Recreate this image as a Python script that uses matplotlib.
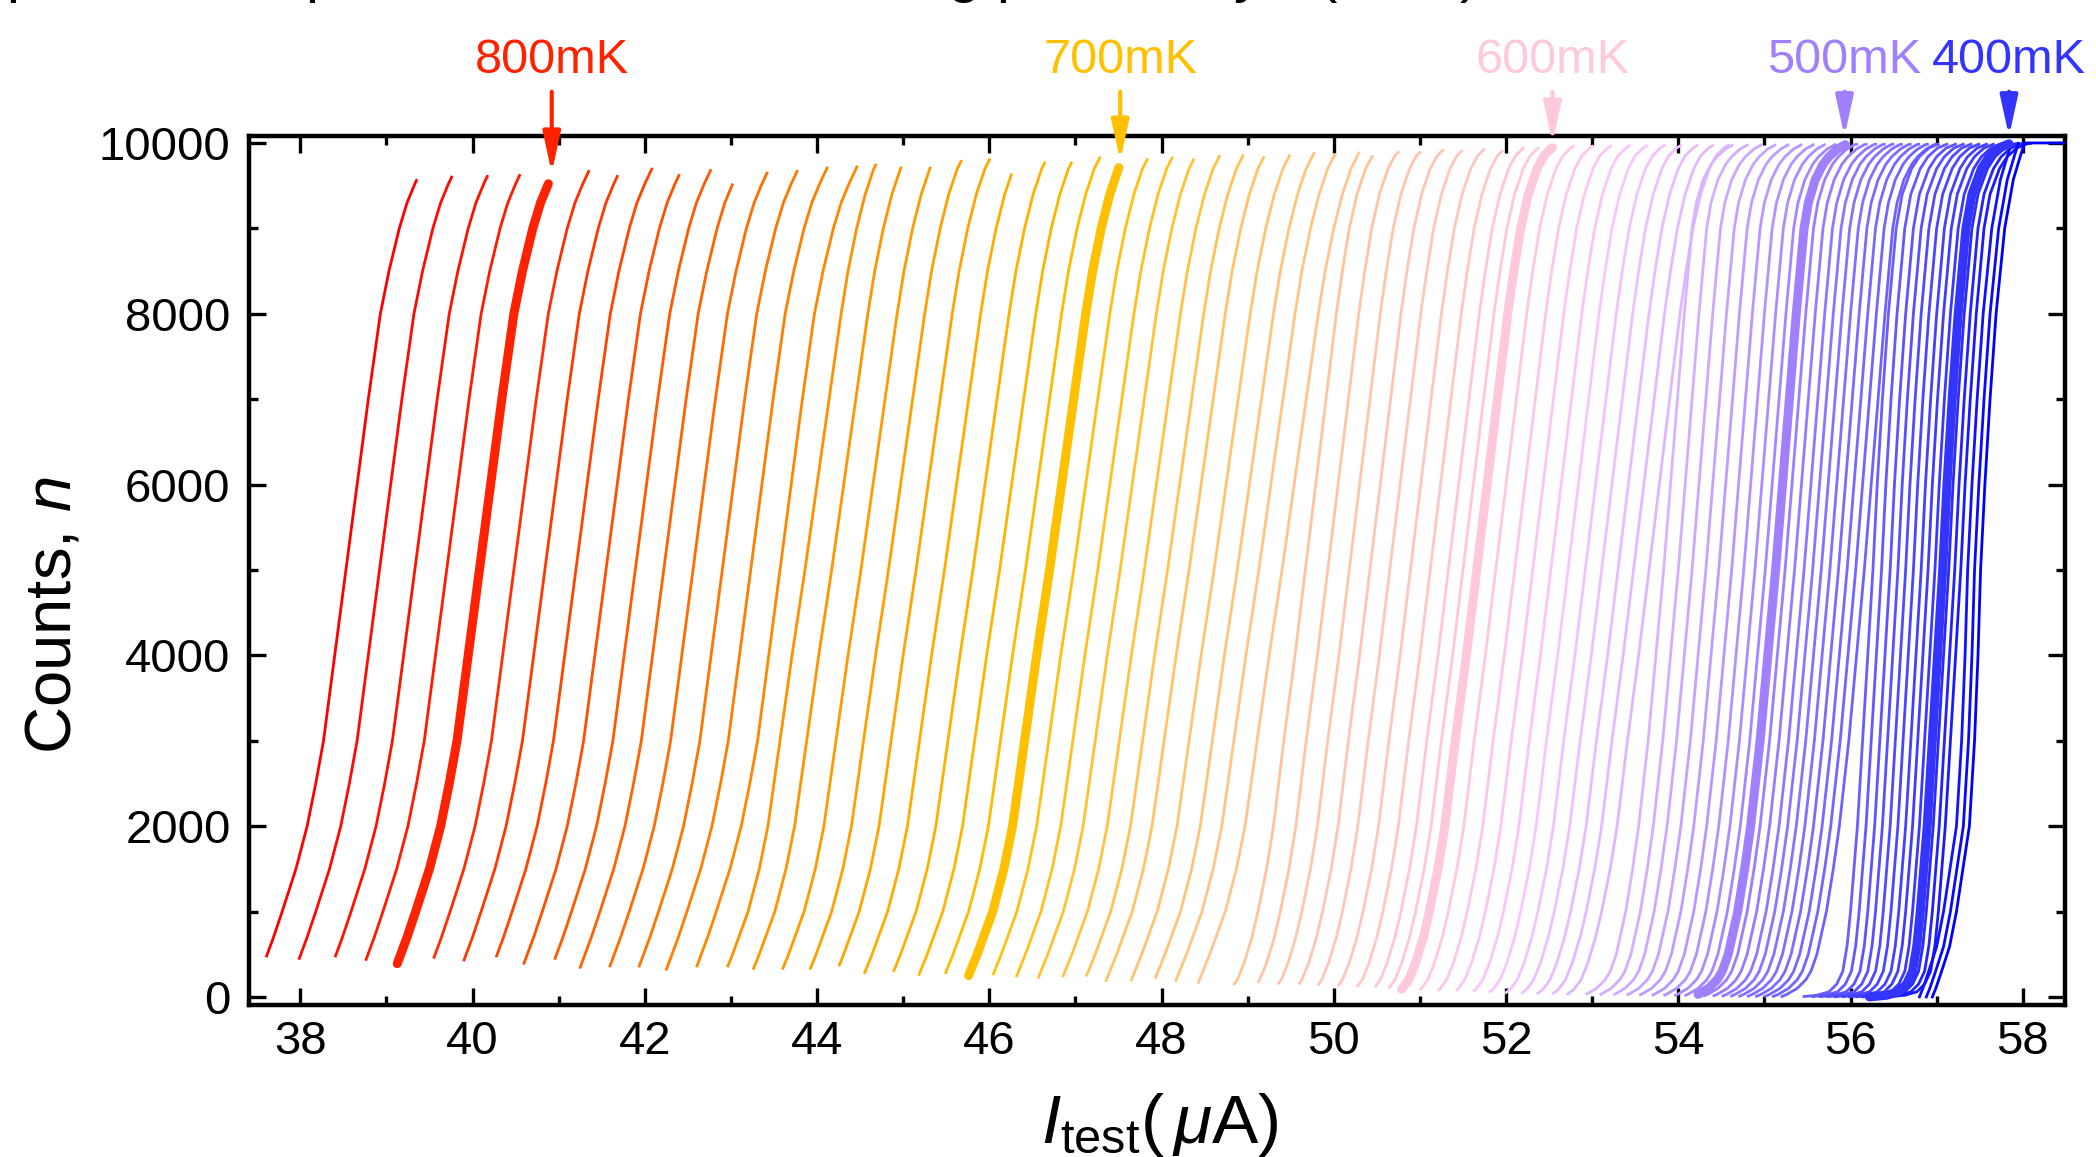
import numpy as np
import matplotlib
matplotlib.use("Agg")
import matplotlib.pyplot as plt
from matplotlib.ticker import MultipleLocator
from matplotlib.colors import to_rgb

plt.rcParams['font.family'] = ['Liberation Sans', 'DejaVu Sans']
plt.rcParams['mathtext.fontset'] = 'custom'
plt.rcParams['mathtext.rm'] = 'Liberation Sans'
plt.rcParams['mathtext.it'] = 'Liberation Sans:italic'
plt.rcParams['mathtext.bf'] = 'Liberation Sans:bold'

# ---------------- data ----------------
# bath temperature of every curve (mK)
T_MK = [820, 815, 810, 805, 800, 795, 790, 785, 780, 775, 770, 765, 760, 755, 750,
        745, 740, 735, 730, 725, 720, 715, 710, 705, 700,
        695, 690, 685, 680, 675, 670, 665, 660, 655, 650,
        645, 640, 635, 630, 625, 620, 615, 610, 605, 600,
        595, 590, 585, 580, 575, 570, 565, 560, 555, 550,
        545, 540, 535, 530, 525, 520, 515, 510, 505, 500,
        495, 490, 485, 480, 475, 470, 465, 460, 455, 450,
        445, 440, 435, 430, 425, 420, 415, 410, 405, 400,
        395, 390, 385, 380, 375, 370]

# test current (uA) where each curve crosses n = 5000
X_MID = [38.53, 38.92, 39.33, 39.70, 40.08, 40.48, 40.84, 41.20, 41.55, 41.89, 42.22, 42.56, 42.90, 43.23, 43.57,
         43.86, 44.17, 44.51, 44.83, 45.15, 45.48, 45.81, 46.12, 46.42, 46.70,
         46.98, 47.26, 47.52, 47.80, 48.07, 48.32, 48.61, 48.88, 49.13, 49.40,
         49.67, 49.93, 50.18, 50.42, 50.65, 50.89, 51.12, 51.33, 51.50, 51.66,
         51.88, 52.10, 52.31, 52.52, 52.72, 52.92, 53.11, 53.30, 53.48, 53.66,
         53.83, 54.00, 54.16, 54.32, 54.47, 54.62, 54.76, 54.89, 55.01, 55.13,
         55.24, 55.35, 55.46, 55.56, 55.66, 55.76, 55.86, 55.96, 56.06, 56.16,
         56.26, 56.36, 56.46, 56.55, 56.64, 56.73, 56.82, 56.90, 56.98, 57.07,
         57.14, 57.21, 57.28, 57.36, 57.44, 57.51]

# first and last recorded count of each curve
N_START = [480, 452, 480, 440, 390, 464, 433, 480, 394, 452, 347, 363, 363, 324, 363,
           363, 335, 335, 335, 374, 285, 308, 265, 285, 250,
           269, 246, 230, 246, 254, 191, 199, 230, 191, 172,
           152, 179, 160, 160, 148, 140, 129, 129, 113, 90,
           90, 82, 82, 74, 62, 51, 51, 43, 43, 35,
           35, 31, 31, 28, 26, 24, 22, 20, 20, 30,
           15, 15, 12, 12, 10, 10, 8, 8, 6, 6,
           5, 5, 4, 4, 3, 3, 2, 2, 1, 0,
           0, 0, 0, 0, 0, 0]
N_END = [9561, 9600, 9608, 9620, 9522, 9667, 9608, 9694, 9620, 9678, 9510, 9647, 9667, 9706, 9718,
         9741, 9706, 9706, 9784, 9804, 9627, 9765, 9765, 9824, 9710,
         9804, 9824, 9804, 9843, 9851, 9830, 9851, 9875, 9863, 9882,
         9843, 9890, 9890, 9914, 9902, 9922, 9902, 9941, 9941, 9945,
         9961, 9961, 9961, 9965, 9965, 9968, 9968, 9970, 9970, 9972,
         9972, 9975, 9975, 9975, 9977, 9977, 9978, 9978, 9980, 9980,
         9985, 9985, 9985, 9985, 9985, 9985, 9985, 9985, 9985, 9985,
         9985, 9985, 9985, 9985, 9985, 9985, 9985, 9985, 9985, 9990,
         9995, 9995, 9995, 9995, 9995, 10000]

# curve profiles: offset from X_MID (uA) vs counts
REF_T = [800, 700, 600, 500, 400, 370]
REF_800_N = [100, 400, 700, 1000, 1500, 2000, 2500, 3000, 4000, 5000, 6000, 7000, 8000, 8500, 9000, 9300, 9520, 9800]
REF_800_DX = [-1.06, -0.95, -0.84, -0.74, -0.58, -0.45, -0.35, -0.26, -0.13, 0.0, 0.13, 0.26, 0.40, 0.50, 0.62, 0.71, 0.80, 0.93]
REF_700_N = [100, 250, 500, 1000, 1500, 2000, 2500, 3000, 4000, 5000, 6000, 7000, 8000, 8500, 9000, 9400, 9700, 9900]
REF_700_DX = [-1.00, -0.94, -0.84, -0.66, -0.53, -0.43, -0.36, -0.29, -0.15, 0.0, 0.14, 0.28, 0.42, 0.50, 0.60, 0.70, 0.80, 0.90]
REF_600_N = [20, 90, 200, 400, 700, 1000, 1500, 2000, 3000, 4000, 5000, 6000, 7000, 8000, 8500, 9000, 9400, 9700, 9850, 9940, 9990]
REF_600_DX = [-0.96, -0.87, -0.79, -0.71, -0.62, -0.55, -0.45, -0.37, -0.25, -0.12, 0.0, 0.12, 0.24, 0.36, 0.43, 0.51, 0.60, 0.70, 0.78, 0.87, 0.95]
REF_500_N = [0, 30, 100, 200, 300, 500, 1000, 1500, 2000, 3000, 4000, 5000, 6000, 7000, 8000, 9000, 9300, 9570, 9750, 9840, 9930, 9980, 10000]
REF_500_DX = [-0.97, -0.90, -0.78, -0.68, -0.62, -0.55, -0.44, -0.36, -0.29, -0.18, -0.09, 0.0, 0.08, 0.16, 0.24, 0.33, 0.38, 0.46, 0.55, 0.62, 0.72, 0.81, 0.90]
REF_400_N = [0, 20, 60, 150, 300, 600, 1000, 2000, 3000, 4000, 5000, 6000, 7000, 8000, 9000, 9400, 9700, 9840, 9940, 9990, 10000]
REF_400_DX = [-0.85, -0.65, -0.51, -0.42, -0.35, -0.30, -0.26, -0.18, -0.12, -0.06, 0.0, 0.05, 0.11, 0.18, 0.27, 0.34, 0.45, 0.54, 0.65, 0.77, 0.85]
REF_370_N = [0, 100, 277, 589, 1000, 2000, 3000, 4000, 5000, 6000, 7000, 8000, 9000, 9570, 9840, 10000]
REF_370_DX = [-0.56, -0.52, -0.46, -0.36, -0.28, -0.13, -0.07, -0.03, 0.0, 0.05, 0.11, 0.18, 0.28, 0.38, 0.46, 0.51]
PLATEAU_END_X = 58.49   # coldest curve stays at n = 10000 up to the frame

# highlighted temperatures, labels and arrow tips
HIGHLIGHT_T = [800, 700, 600, 500, 400]
HIGHLIGHT_LABEL = ['800mK', '700mK', '600mK', '500mK', '400mK']
ARROW_X = [40.92, 47.52, 52.54, 55.93, 57.84]
ARROW_TIP_N = [9650, 9790, 10000, 10075, 10075]

# ---------------- styles ----------------
COLOR_T = [820, 800, 775, 745, 700, 670, 640, 600, 575, 545, 500, 450, 400, 370]
COLOR_HEX = ['#ff0000', '#ff2200', '#ff5a00', '#ff9000', '#ffc000', '#ffc466', '#ffc4a6',
             '#ffc8dc', '#f8c6ff', '#d8b4ff', '#a080ff', '#6e62ff', '#3434ff', '#0000ff']
HIGHLIGHT_COLOR = ['#ff2200', '#ffc000', '#ffc8dc', '#a080ff', '#3434ff']


def colour(t):
    ts = np.array(COLOR_T[::-1], float)
    rgb = np.array([to_rgb(c) for c in COLOR_HEX[::-1]])
    return tuple(np.interp(t, ts, rgb[:, j]) for j in range(3))


REF_N = [REF_800_N, REF_700_N, REF_600_N, REF_500_N, REF_400_N, REF_370_N]
REF_DX = [REF_800_DX, REF_700_DX, REF_600_DX, REF_500_DX, REF_400_DX, REF_370_DX]


def curve(xmid, n0, n1, rn, rdx):
    rn = np.asarray(rn, float)
    rdx = np.asarray(rdx, float)
    inner = (rn > n0) & (rn < n1)
    ns = np.concatenate([[n0], rn[inner], [n1]])
    dx = np.concatenate([[np.interp(n0, rn, rdx)], rdx[inner], [np.interp(n1, rn, rdx)]])
    return xmid + dx, ns


fig = plt.figure(figsize=(20.96, 11.57), dpi=100)
ax = fig.add_axes([0.1186, 0.1314, 0.8666, 0.7511])

for i, t in enumerate(T_MK):
    k = int(np.argmin(np.abs(np.array(REF_T) - t)))
    xs, ns = curve(X_MID[i], N_START[i], N_END[i], REF_N[k], REF_DX[k])
    if i == len(T_MK) - 1:
        xs = np.append(xs, PLATEAU_END_X)
        ns = np.append(ns, N_END[i])
    if t in HIGHLIGHT_T:
        c = HIGHLIGHT_COLOR[HIGHLIGHT_T.index(t)]
        ax.plot(xs, ns, color=c, lw=6.5, solid_capstyle='round', solid_joinstyle='round', zorder=4)
    else:
        ax.plot(xs, ns, color=colour(t), lw=2.0, solid_joinstyle='round', zorder=3)

for x, tip, lab, c in zip(ARROW_X, ARROW_TIP_N, HIGHLIGHT_LABEL, HIGHLIGHT_COLOR):
    ax.annotate('', xy=(x, tip), xytext=(x, 10600),
                arrowprops=dict(arrowstyle='-|>,head_length=1.1,head_width=0.24', color=c, lw=3,
                                mutation_scale=22, shrinkA=0, shrinkB=0),
                annotation_clip=False, zorder=6)
    ax.text(x, 10965, lab, color=c, fontsize=35, ha='center', va='center', clip_on=False)

ax.set_xlim(37.40, 58.49)
ax.set_ylim(-94, 10082)
ax.xaxis.set_major_locator(MultipleLocator(2))
ax.xaxis.set_minor_locator(MultipleLocator(1))
ax.yaxis.set_major_locator(MultipleLocator(2000))
ax.yaxis.set_minor_locator(MultipleLocator(1000))
ax.tick_params(which='both', direction='in', top=True, right=True, width=2.4, labelsize=34)
ax.tick_params(which='major', length=12)
ax.tick_params(which='minor', length=6.5)
ax.tick_params(axis='x', pad=11)
ax.tick_params(axis='y', pad=13)
for s in ax.spines.values():
    s.set_linewidth(3.2)

fig.text(0.0255, 0.4685, r'Counts, $n$', rotation=90, fontsize=47, ha='center', va='center',
         rotation_mode='anchor')
fig.text(0.5535, 0.0121, r'$I_{\mathrm{test}}(\,\mu\mathrm{A})$', fontsize=50, ha='center', va='baseline')

# partially cut-off heading above the panel (only its descenders reach into the picture)
fig.text(-0.0525, 1 + 9 / 1157, r'Temperature dependence of the switching probability $P(I_{\mathrm{TEST}})$',
         fontsize=42, ha='left', va='baseline')

fig.savefig('out.png', dpi=100)
